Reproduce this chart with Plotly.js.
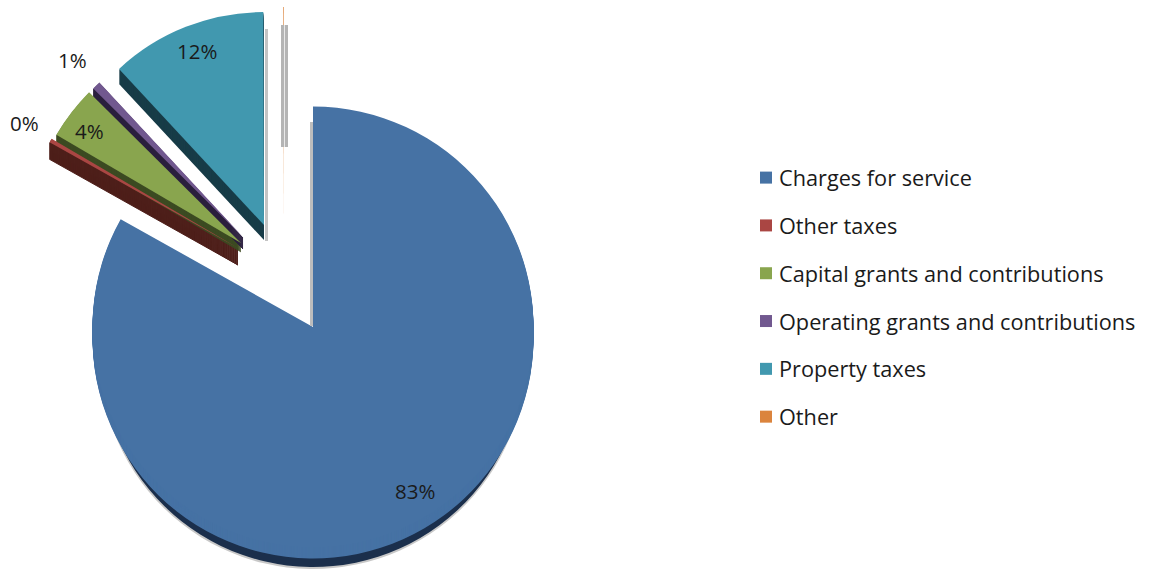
<!DOCTYPE html>
<html><head><meta charset="utf-8">
<script src="https://cdn.plot.ly/plotly-3.0.1.min.js"></script>
<style>html,body{margin:0;padding:0;background:#fff}#c{width:1152px;height:572px}</style>
</head><body><div id="c"></div>
<script>
const categories = ["Charges for service","Other taxes","Capital grants and contributions","Operating grants and contributions","Property taxes","Other"];
const values = [83.05, 0.3, 4.0, 0.65, 11.85, 0.05];
const percentLabels = ["83%","0%","4%","1%","12%",""];
const colors = ["#4672A4","#AA4643","#89A54E","#71588F","#4198AF","#DB843D"];
const darkColors = ["#1B2F4C","#4E1F1A","#3C4B22","#2B1F3D","#183C48","#DB843D"];

// Layout of the exploded pieces (pixels)
const W = 1152, H = 572;
const sliceCx = [313, 238, 241, 243, 264, 284];
const sliceCy = [327, 248, 243, 237, 225, 221];
const sliceR  = [220.5, 216, 214, 211, 213, 214];
const depth   = [20, 17, 9, 12, 15, 0];
const edgeW   = [0, 1, 0.5, 0.8, 0, 0];
const labelX  = [415, 24, 89, 72, 197];
const labelY  = [491, 123, 131, 60, 51];

function piece(i, dy, color, rad, lw){
  const cx = sliceCx[i], cy = sliceCy[i] + dy, r = rad || sliceR[i], w = lw || 0;
  return {
    type:'pie', labels:categories, values:values, sort:false, direction:'clockwise', rotation:0,
    marker:{colors:categories.map((_,k)=> k===i ? color : 'rgba(0,0,0,0)'),
            line:{width:categories.map((_,k)=> k===i ? w : 0), color:categories.map((_,k)=> k===i ? color : 'rgba(0,0,0,0)')}},
    textinfo:'none', hoverinfo:'skip', showlegend:false,
    domain:{x:[(cx-r)/W,(cx+r)/W], y:[1-(cy+r)/H,1-(cy-r)/H]}
  };
}
const traces = [];
// extrusion for the 3-D look: stacked copies of each exploded piece, darkest below
traces.push(piece(0, 29, '#c8c8c8', 213));
traces.push(piece(0, 28, darkColors[0], 212));
for (let d = 11; d > 0; d--) traces.push(piece(0, d, colors[0]));
for (let i = 1; i < categories.length; i++) {
  for (let d = depth[i]; d > 0; d--) traces.push(piece(i, d, darkColors[i], 0, edgeW[i]));
}
categories.forEach((_,i)=>{ traces.push(piece(i, 0, colors[i])); });
// legend entries
categories.forEach((name,i)=>{
  traces.push({type:'scatter', mode:'markers', x:[null], y:[null], name:name, legendgroup:'g'+i,
    marker:{symbol:'square', size:12, color:colors[i]}, hoverinfo:'skip', showlegend:true});
});

const layout = {
  width:W, height:H, margin:{l:0,r:0,t:0,b:0}, paper_bgcolor:'#fff', plot_bgcolor:'rgba(0,0,0,0)',
  xaxis:{visible:false, range:[0,1]}, yaxis:{visible:false, range:[0,1]},
  font:{family:'"Open Sans", sans-serif', color:'#1a1a1a'},
  showlegend:true,
  legend:{x:739/W, y:1-(157/H), xanchor:'left', yanchor:'top', traceorder:'grouped', tracegroupgap:16.6,
    font:{family:'"Open Sans", sans-serif', size:21.7, color:'#1a1a1a'}, bgcolor:'rgba(0,0,0,0)', borderwidth:0, itemclick:false, itemdoubleclick:false},
  annotations: labelX.map((x,i)=>({xref:'paper', yref:'paper', x:x/W, y:1-labelY[i]/H, xanchor:'center', yanchor:'middle',
      text:percentLabels[i], showarrow:false, font:{family:'"Open Sans", sans-serif', size:20.5, color:'#1a1a1a'}})),
  shapes:[
    {type:'rect', xref:'paper', yref:'paper', x0:281/W, x1:288/W, y0:1-147/H, y1:1-25/H, fillcolor:'#b4b4b4', line:{width:0}, layer:'above'},
    {type:'rect', xref:'paper', yref:'paper', x0:284/W, x1:285/W, y0:1-147/H, y1:1-25/H, fillcolor:'#e8e8e8', line:{width:0}, layer:'above'},
    {type:'rect', xref:'paper', yref:'paper', x0:310/W, x1:313/W, y0:1-326/H, y1:1-122/H, fillcolor:'#bdbdbd', line:{width:0}, layer:'above'},
    {type:'rect', xref:'paper', yref:'paper', x0:265/W, x1:268/W, y0:1-241/H, y1:1-29/H, fillcolor:'#c4c4c4', line:{width:0}, layer:'above'}
  ]
};
Plotly.newPlot('c', traces, layout, {displayModeBar:false, responsive:false}).then(gd=>{
  gd.querySelectorAll('.legend .legendsymbols').forEach(n=>n.setAttribute('transform','translate(7,0)'));
});
</script></body></html>
